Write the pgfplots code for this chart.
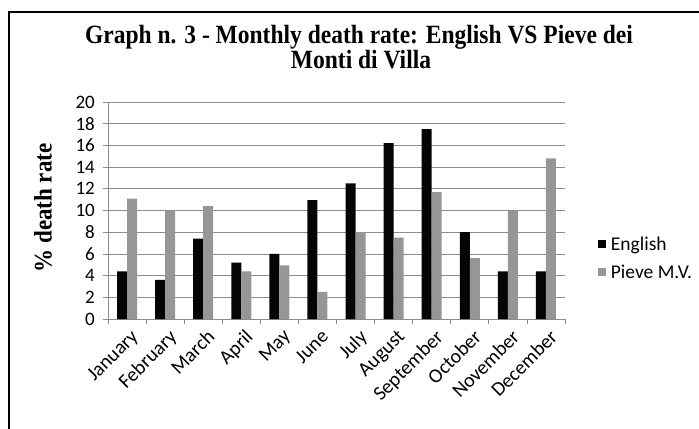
\documentclass[border=0pt]{standalone}
\usepackage{graphicx}
\usepackage{pgfplots}
\pgfplotsset{compat=1.18}
\usepackage{fontspec}
\setmainfont{Carlito}
\newfontfamily\serifbold{Liberation Serif}

\definecolor{engblack}{RGB}{5,5,5}
\definecolor{pievegray}{RGB}{150,150,150}
\definecolor{gridgray}{RGB}{140,140,140}
\definecolor{axisgray}{RGB}{140,140,140}

\newcommand{\titletext}[1]{\scalebox{1}[1.12]{\serifbold\bfseries\fontsize{23.5bp}{26bp}\selectfont #1}}

\begin{document}
\begin{tikzpicture}[x=1bp,y=1bp]
\useasboundingbox (0,0) rectangle (699,428);
% outer frame
\draw[line width=1.3bp, black] (9,-2) -- (9,416) -- (702,416);

% title
\node[anchor=base] at (359,385) {\titletext{Graph n. 3 - Monthly death rate: English VS Pieve dei}};
\node[anchor=base] at (361,360) {\titletext{Monti di Villa}};

% y label
\node[rotate=90] at (43,220) {\scalebox{1}[1.1]{\serifbold\bfseries\fontsize{23bp}{25bp}\selectfont \% death rate}};

\begin{axis}[
  at={(108bp,109bp)}, anchor=south west,
  scale only axis, width=457bp, height=217bp,
  xmin=-0.5, xmax=11.5, ymin=0, ymax=20,
  ytick={0,2,...,20},
  xtick={0,...,11},
  xticklabels={January,February,March,April,May,June,July,August,September,October,November,December},
  minor xtick={-0.5,0.5,...,11.5},
  major x tick style={draw=none},
  tick align=outside,
  major tick length=5bp,
  minor tick length=5bp,
  tick style={axisgray, line width=0.8bp},
  axis x line*=bottom, axis y line*=left,
  axis line style={draw=axisgray, line width=0.8bp, -},
  ymajorgrids, grid style={gridgray, line width=0.8bp},
  /pgf/number format/assume math mode=true,
  yticklabel style={font=\fontsize{19bp}{21bp}\selectfont, xshift=-7bp, inner sep=1bp},
  xticklabel style={font=\fontsize{20bp}{22bp}\selectfont, rotate=45, anchor=north east, inner sep=1bp, yshift=-4bp},
  ybar=0pt, bar width=10bp,
  legend style={at={(1.065,0.28)}, anchor=west, draw=none, fill=none,
    font=\fontsize{19.5bp}{21bp}\selectfont, row sep=9bp},
  legend cell align=left,
  legend image code/.code={\fill[#1] (0bp,-4bp) rectangle (8bp,4bp); \path (11bp,0bp);},
]
\addplot[fill=engblack, draw=none] coordinates {
  (0,4.4) (1,3.6) (2,7.4) (3,5.2) (4,6.0) (5,10.95)
  (6,12.5) (7,16.2) (8,17.5) (9,8.0) (10,4.4) (11,4.4)};
\addplot[fill=pievegray, draw=none] coordinates {
  (0,11.1) (1,10.0) (2,10.4) (3,4.4) (4,4.95) (5,2.5)
  (6,8.0) (7,7.5) (8,11.7) (9,5.6) (10,10.0) (11,14.8)};
\legend{English, Pieve M.V.}
\end{axis}
\end{tikzpicture}
\end{document}
